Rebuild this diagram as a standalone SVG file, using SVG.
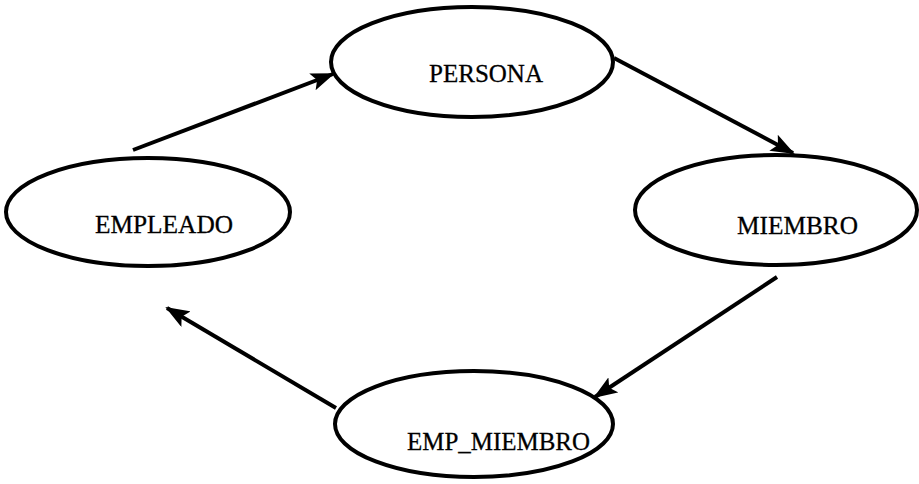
<svg xmlns="http://www.w3.org/2000/svg" width="919" height="484" viewBox="0 0 919 484">
  <style>
    .node ellipse { fill: #ffffff; stroke: #000000; stroke-width: 4; }
    .node text { font-family: "Liberation Serif", "Times New Roman", serif; font-size: 26px; fill: #000000; stroke: #000000; stroke-width: 0.3; }
    .edge { stroke: #000000; stroke-width: 4; fill: none; marker-end: url(#arrow); }
  </style>
  <defs>
    <marker id="arrow" markerUnits="userSpaceOnUse" markerWidth="24" markerHeight="18" refX="22" refY="9" orient="auto">
      <path d="M0,0 L24,9 L0,18 L5,9 Z" fill="#000000"/>
    </marker>
  </defs>
  <rect width="919" height="484" fill="#ffffff"/>

  <g id="connectors">
    <line class="edge" x1="133" y1="150" x2="333" y2="74"/>
    <line class="edge" x1="614" y1="58" x2="793" y2="153"/>
    <line class="edge" x1="777" y1="277" x2="595" y2="397"/>
    <line class="edge" x1="336" y1="408" x2="167" y2="308"/>
  </g>

  <g id="persona" class="node">
    <ellipse cx="472" cy="62" rx="141" ry="55"/>
    <text x="429" y="82" textLength="114" lengthAdjust="spacingAndGlyphs">PERSONA</text>
  </g>

  <g id="empleado" class="node">
    <ellipse cx="148" cy="212" rx="142" ry="54"/>
    <text x="95" y="233" textLength="138" lengthAdjust="spacingAndGlyphs">EMPLEADO</text>
  </g>

  <g id="miembro" class="node">
    <ellipse cx="776" cy="210" rx="141" ry="55"/>
    <text x="737" y="234" textLength="121" lengthAdjust="spacingAndGlyphs">MIEMBRO</text>
  </g>

  <g id="emp_miembro" class="node">
    <ellipse cx="474" cy="424" rx="139" ry="53"/>
    <text x="407" y="450" textLength="183" lengthAdjust="spacingAndGlyphs">EMP_MIEMBRO</text>
  </g>
</svg>
